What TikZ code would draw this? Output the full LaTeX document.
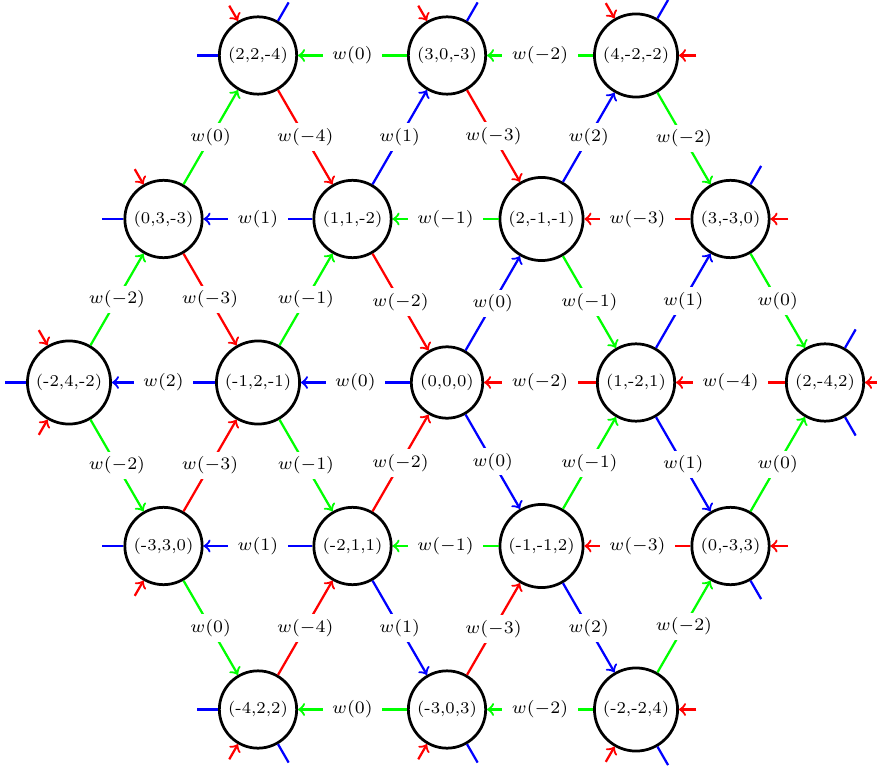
\documentclass[tikz,border=0pt]{standalone}
\usetikzlibrary{calc}
\newcommand\mystubin[2]{\draw[stubline,red,->] ($(#1.#2)+(#2:7pt)$) -- (#1.#2);}
\newcommand\mystubout[2]{\draw[stubline,blue] (#1.#2) -- ($(#1.#2)+(#2:8.5pt)$);}
\begin{document}
\begin{tikzpicture}[x=0.4pt,y=0.4pt,
  vtx/.style={circle,draw,line width=1.1pt,inner sep=2.4pt,font=\fontsize{6.6pt}{7.5pt}\selectfont},
  lab/.style={fill=white,text=black,font=\fontsize{6.8pt}{8pt}\selectfont,inner xsep=3.8pt,inner ysep=2pt},
  conn/.style={line width=0.9pt,->},
  stubline/.style={line width=0.9pt}]
\path[use as bounding box,clip] (0,0) rectangle (877,767);
% row 1
\node[vtx] (n22m4)  at (258,711.5) {(2,2,-4)};
\node[vtx] (n30m3)  at (447,711.5) {(3,0,-3)};
\node[vtx] (n4m2m2) at (636,711.5) {(4,-2,-2)};
% row 2
\node[vtx] (n03m3)  at (163.5,548) {(0,3,-3)};
\node[vtx] (n11m2)  at (352.5,548) {(1,1,-2)};
\node[vtx] (n2m1m1) at (541.5,548) {(2,-1,-1)};
\node[vtx] (n3m30)  at (730.5,548) {(3,-3,0)};
% row 3
\node[vtx] (nm24m2) at (69,384.5) {(-2,4,-2)};
\node[vtx] (nm12m1) at (258,384.5) {(-1,2,-1)};
\node[vtx] (n000)   at (447,384.5) {(0,0,0)};
\node[vtx] (n1m21)  at (636,384.5) {(1,-2,1)};
\node[vtx] (n2m42)  at (825,384.5) {(2,-4,2)};
% row 4
\node[vtx] (nm330)  at (163.5,221) {(-3,3,0)};
\node[vtx] (nm211)  at (352.5,221) {(-2,1,1)};
\node[vtx] (nm1m12) at (541.5,221) {(-1,-1,2)};
\node[vtx] (n0m33)  at (730.5,221) {(0,-3,3)};
% row 5
\node[vtx] (nm422)  at (258,57.5) {(-4,2,2)};
\node[vtx] (nm303)  at (447,57.5) {(-3,0,3)};
\node[vtx] (nm2m24) at (636,57.5) {(-2,-2,4)};
% horizontal edges
\draw[conn,green] (n4m2m2) -- node[lab] {$w(-2)$} (n30m3);
\draw[conn,green] (n30m3) -- node[lab] {$w(0)$} (n22m4);
\draw[conn,blue]  (n11m2) -- node[lab] {$w(1)$} (n03m3);
\draw[conn,green] (n2m1m1) -- node[lab] {$w(-1)$} (n11m2);
\draw[conn,red]   (n3m30) -- node[lab] {$w(-3)$} (n2m1m1);
\draw[conn,blue]  (nm12m1) -- node[lab] {$w(2)$} (nm24m2);
\draw[conn,blue]  (n000) -- node[lab] {$w(0)$} (nm12m1);
\draw[conn,red]   (n1m21) -- node[lab] {$w(-2)$} (n000);
\draw[conn,red]   (n2m42) -- node[lab] {$w(-4)$} (n1m21);
\draw[conn,blue]  (nm211) -- node[lab] {$w(1)$} (nm330);
\draw[conn,green] (nm1m12) -- node[lab] {$w(-1)$} (nm211);
\draw[conn,red]   (n0m33) -- node[lab] {$w(-3)$} (nm1m12);
\draw[conn,green] (nm303) -- node[lab] {$w(0)$} (nm422);
\draw[conn,green] (nm2m24) -- node[lab] {$w(-2)$} (nm303);
% diagonals rows 1-2
\draw[conn,green] (n03m3) -- node[lab] {$w(0)$} (n22m4);
\draw[conn,red]   (n22m4) -- node[lab] {$w(-4)$} (n11m2);
\draw[conn,blue]  (n11m2) -- node[lab] {$w(1)$} (n30m3);
\draw[conn,red]   (n30m3) -- node[lab] {$w(-3)$} (n2m1m1);
\draw[conn,blue]  (n2m1m1) -- node[lab] {$w(2)$} (n4m2m2);
\draw[conn,green] (n4m2m2) -- node[lab] {$w(-2)$} (n3m30);
% diagonals rows 2-3
\draw[conn,green] (nm24m2) -- node[lab] {$w(-2)$} (n03m3);
\draw[conn,red]   (n03m3) -- node[lab] {$w(-3)$} (nm12m1);
\draw[conn,green] (nm12m1) -- node[lab] {$w(-1)$} (n11m2);
\draw[conn,red]   (n11m2) -- node[lab] {$w(-2)$} (n000);
\draw[conn,blue]  (n000) -- node[lab] {$w(0)$} (n2m1m1);
\draw[conn,green] (n2m1m1) -- node[lab] {$w(-1)$} (n1m21);
\draw[conn,blue]  (n1m21) -- node[lab] {$w(1)$} (n3m30);
\draw[conn,green] (n3m30) -- node[lab] {$w(0)$} (n2m42);
% diagonals rows 3-4
\draw[conn,green] (nm24m2) -- node[lab] {$w(-2)$} (nm330);
\draw[conn,red]   (nm330) -- node[lab] {$w(-3)$} (nm12m1);
\draw[conn,green] (nm12m1) -- node[lab] {$w(-1)$} (nm211);
\draw[conn,red]   (nm211) -- node[lab] {$w(-2)$} (n000);
\draw[conn,blue]  (n000) -- node[lab] {$w(0)$} (nm1m12);
\draw[conn,green] (nm1m12) -- node[lab] {$w(-1)$} (n1m21);
\draw[conn,blue]  (n1m21) -- node[lab] {$w(1)$} (n0m33);
\draw[conn,green] (n0m33) -- node[lab] {$w(0)$} (n2m42);
% diagonals rows 4-5
\draw[conn,green] (nm330) -- node[lab] {$w(0)$} (nm422);
\draw[conn,red]   (nm422) -- node[lab] {$w(-4)$} (nm211);
\draw[conn,blue]  (nm211) -- node[lab] {$w(1)$} (nm303);
\draw[conn,red]   (nm303) -- node[lab] {$w(-3)$} (nm1m12);
\draw[conn,blue]  (nm1m12) -- node[lab] {$w(2)$} (nm2m24);
\draw[conn,green] (nm2m24) -- node[lab] {$w(-2)$} (n0m33);
% boundary stubs
\mystubin{n22m4}{120} \mystubout{n22m4}{60} \mystubout{n22m4}{180}
\mystubin{n30m3}{120} \mystubout{n30m3}{60}
\mystubin{n4m2m2}{120} \mystubout{n4m2m2}{60} \mystubin{n4m2m2}{0}
\mystubin{n03m3}{120} \mystubout{n03m3}{180}
\mystubout{n3m30}{60} \mystubin{n3m30}{0}
\mystubin{nm24m2}{120} \mystubout{nm24m2}{180} \mystubin{nm24m2}{240}
\mystubout{n2m42}{60} \mystubin{n2m42}{0} \mystubout{n2m42}{300}
\mystubout{nm330}{180} \mystubin{nm330}{240}
\mystubin{n0m33}{0} \mystubout{n0m33}{300}
\mystubout{nm422}{180} \mystubin{nm422}{240} \mystubout{nm422}{300}
\mystubin{nm303}{240} \mystubout{nm303}{300}
\mystubin{nm2m24}{0} \mystubin{nm2m24}{240} \mystubout{nm2m24}{300}
\end{tikzpicture}
\end{document}
